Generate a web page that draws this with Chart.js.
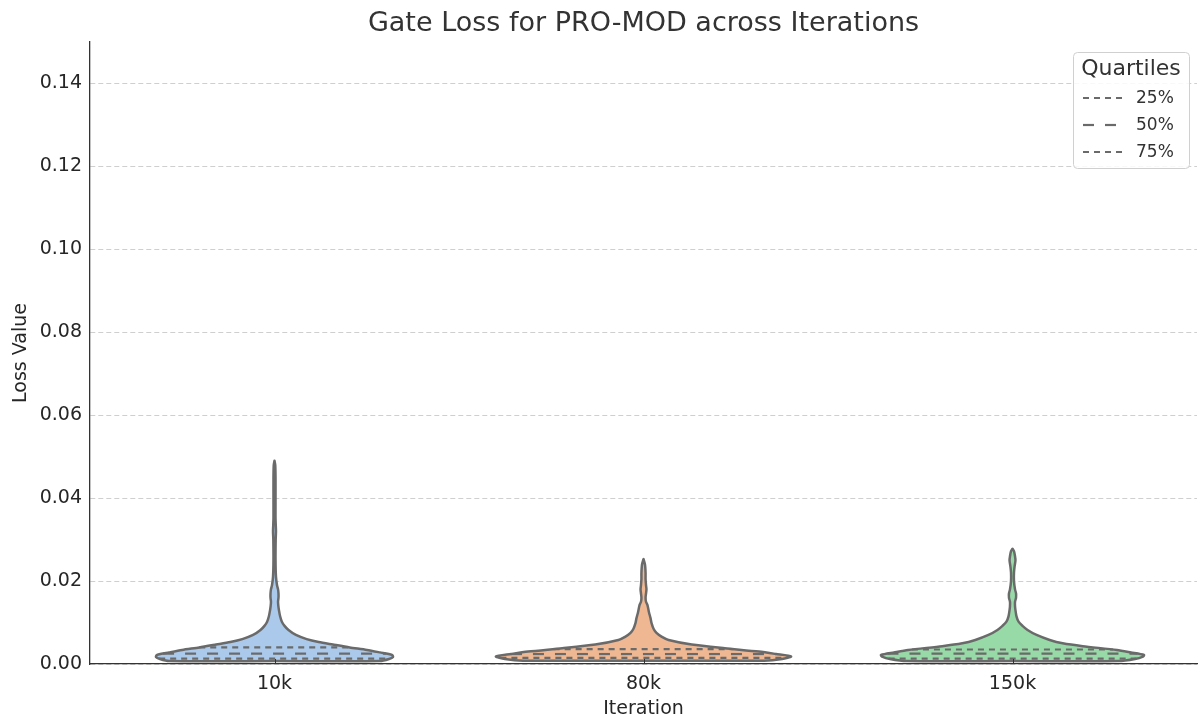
<!DOCTYPE html>
<html>
<head>
<meta charset="utf-8">
<title>Gate Loss for PRO-MOD across Iterations</title>
<script src="https://cdn.jsdelivr.net/npm/chart.js@4.4.1/dist/chart.umd.min.js"></script>
<style>
  html, body { margin: 0; padding: 0; background: #fff; }
  #wrap { width: 1198px; height: 720px; }
</style>
</head>
<body>
<div id="wrap"><canvas id="violin"></canvas></div>
<script>
// categories and y ticks
const chartTitle = 'Gate Loss for PRO-MOD across Iterations';
const categories = ['10k', '80k', '150k'];
const yTicks = [0, 0.02, 0.04, 0.06, 0.08, 0.10, 0.12, 0.14];

// estimated KDE profiles (loss level -> relative density, widest = 1)
const levels10k = [0.0007, 0.0012, 0.0017, 0.0022, 0.0028, 0.0034, 0.004, 0.0047, 0.0053, 0.006, 0.007, 0.0082, 0.0092, 0.0102, 0.0115, 0.013, 0.014, 0.015, 0.016, 0.017, 0.018, 0.019, 0.021, 0.025, 0.03, 0.032, 0.035, 0.04, 0.045, 0.048, 0.049];
const density10k = [0.714, 0.776, 0.803, 0.796, 0.714, 0.626, 0.510, 0.395, 0.299, 0.218, 0.145, 0.095, 0.068, 0.050, 0.038, 0.030, 0.026, 0.024, 0.027, 0.027, 0.024, 0.017, 0.010, 0.007, 0.008, 0.010, 0.007, 0.007, 0.007, 0.005, 0];

const levels80k = [0.0008, 0.0012, 0.0018, 0.0024, 0.003, 0.0038, 0.0047, 0.0058, 0.0066, 0.0075, 0.0085, 0.0099, 0.011, 0.0125, 0.0142, 0.015, 0.016, 0.017, 0.018, 0.019, 0.0205, 0.022, 0.024, 0.0253];
const density80k = [0.816, 0.939, 1.0, 0.898, 0.782, 0.551, 0.327, 0.170, 0.122, 0.088, 0.068, 0.054, 0.048, 0.037, 0.027, 0.017, 0.014, 0.017, 0.020, 0.017, 0.014, 0.014, 0.010, 0];

const levels150k = [0.0007, 0.0012, 0.0018, 0.0022, 0.0028, 0.0034, 0.0043, 0.005, 0.0058, 0.007, 0.0082, 0.0092, 0.0102, 0.0115, 0.013, 0.014, 0.015, 0.016, 0.017, 0.018, 0.02, 0.022, 0.0235, 0.025, 0.026, 0.0272, 0.0278];
const density150k = [0.714, 0.830, 0.884, 0.891, 0.803, 0.707, 0.476, 0.340, 0.252, 0.163, 0.102, 0.068, 0.041, 0.027, 0.020, 0.017, 0.017, 0.024, 0.024, 0.017, 0.010, 0.010, 0.014, 0.020, 0.017, 0.010, 0];

// quartiles per iteration
const q25 = [0.0013, 0.0015, 0.0013];
const q50 = [0.0025, 0.0024, 0.0025];
const q75 = [0.0040, 0.0036, 0.0035];

const fills = ['#abc9ea', '#efb792', '#98daa7'];
const lineGray = '#6a6a6a';
const HALF = 0.4; // max half width in category units
const quartDash = [6, 5];
const medDash = [11, 11];

const profiles = [
  [levels10k, density10k],
  [levels80k, density80k],
  [levels150k, density150k]
];

function outline(i, levels, dens) {
  const right = levels.map((y, k) => ({ x: i + dens[k] * HALF, y: y }));
  const left = levels.map((y, k) => ({ x: i - dens[k] * HALF, y: y })).reverse();
  return [{ x: i, y: levels[0] }].concat(right, left, [{ x: i, y: levels[0] }]);
}

function densityAt(levels, dens, v) {
  if (v <= levels[0]) return dens[0];
  for (let k = 1; k < levels.length; k++) {
    if (v <= levels[k]) {
      const t = (v - levels[k - 1]) / (levels[k] - levels[k - 1]);
      return dens[k - 1] + t * (dens[k] - dens[k - 1]);
    }
  }
  return 0;
}

const datasets = [];
profiles.forEach(([lv, dn], i) => {
  datasets.push({
    label: categories[i],
    data: outline(i, lv, dn),
    showLine: true,
    fill: 'shape',
    backgroundColor: fills[i],
    borderColor: lineGray,
    borderWidth: 2.5,
    borderJoinStyle: 'round',
    tension: 0.25,
    pointRadius: 0,
    order: 2
  });
  [[q25, quartDash], [q50, medDash], [q75, quartDash]].forEach(([q, dash]) => {
    const w = densityAt(lv, dn, q[i]) * HALF;
    datasets.push({
      label: 'q',
      data: [{ x: i - w, y: q[i] }, { x: i + w, y: q[i] }],
      showLine: true,
      fill: false,
      borderColor: lineGray,
      borderWidth: 2.2,
      borderDash: dash,
      pointRadius: 0,
      order: 1
    });
  });
});

// title over plot area, legend box, inward x ticks
const extras = {
  id: 'extras',
  afterDatasetsDraw(chart) {
    const ctx = chart.ctx;
    const area = chart.chartArea;
    const xs = chart.scales.x;
    ctx.save();

    ctx.fillStyle = '#333';
    ctx.textAlign = 'center';
    ctx.textBaseline = 'middle';
    ctx.font = '27px "DejaVu Sans"';
    ctx.fillText(chartTitle, (area.left + area.right) / 2, 24);

    ctx.strokeStyle = '#333';
    ctx.lineWidth = 1;
    categories.forEach((c, i) => {
      const px = Math.round(xs.getPixelForValue(i)) + 0.5;
      ctx.beginPath();
      ctx.moveTo(px, area.bottom);
      ctx.lineTo(px, area.bottom - 5);
      ctx.stroke();
    });

    const bw = 116, bh = 116;
    const bx = area.right - 8 - bw, by = area.top + 10;
    ctx.fillStyle = 'rgba(255,255,255,0.85)';
    ctx.strokeStyle = '#d0d0d0';
    ctx.lineWidth = 1;
    ctx.beginPath();
    ctx.roundRect(bx + 0.5, by + 0.5, bw, bh, 4);
    ctx.fill();
    ctx.stroke();

    ctx.fillStyle = '#333';
    ctx.font = '22px "DejaVu Sans"';
    ctx.fillText('Quartiles', bx + bw / 2, by + 17);

    const rows = [['25%', quartDash], ['50%', medDash], ['75%', quartDash]];
    ctx.font = '17px "DejaVu Sans"';
    ctx.textAlign = 'left';
    rows.forEach(([t, dash], r) => {
      const ry = by + 46 + r * 27;
      ctx.strokeStyle = lineGray;
      ctx.lineWidth = 2.2;
      ctx.setLineDash(dash);
      ctx.beginPath();
      ctx.moveTo(bx + 10, ry);
      ctx.lineTo(bx + 50, ry);
      ctx.stroke();
      ctx.setLineDash([]);
      ctx.fillStyle = '#333';
      ctx.fillText(t, bx + 63, ry + 1);
    });
    ctx.restore();
  }
};

Chart.defaults.font.family = '"DejaVu Sans", sans-serif';
Chart.defaults.color = '#262626';

new Chart(document.getElementById('violin'), {
  type: 'scatter',
  data: { datasets: datasets },
  plugins: [extras],
  options: {
    responsive: true,
    maintainAspectRatio: false,
    animation: false,
    layout: { padding: { left: 0, right: 1, top: 42, bottom: 0 } },
    plugins: {
      legend: { display: false },
      tooltip: { enabled: false }
    },
    scales: {
      x: {
        type: 'linear',
        min: -0.5,
        max: 2.5,
        afterBuildTicks(scale) {
          scale.ticks = categories.map((c, i) => ({ value: i }));
        },
        afterFit(scale) { scale.height = 56; },
        ticks: {
          font: { size: 19 },
          padding: 9,
          callback: v => categories[v]
        },
        grid: { display: false, drawTicks: false },
        border: { display: true, color: '#333', width: 1.3 },
        title: {
          display: true,
          text: 'Iteration',
          font: { size: 19 },
          padding: { top: 0, bottom: 0 }
        }
      },
      y: {
        min: 0,
        max: 0.15,
        afterBuildTicks(scale) {
          scale.ticks = yTicks.map(v => ({ value: v }));
        },
        afterFit(scale) { scale.width = 90; },
        ticks: {
          font: { size: 19 },
          padding: 8,
          callback: v => v.toFixed(2)
        },
        grid: { color: '#cfcfcf', lineWidth: 1, drawTicks: false },
        border: { display: true, color: '#333', width: 1.3, dash: [5, 3] },
        title: {
          display: true,
          text: 'Loss Value',
          font: { size: 19 },
          padding: { top: 10, bottom: 0 }
        }
      }
    }
  }
});
</script>
</body>
</html>
